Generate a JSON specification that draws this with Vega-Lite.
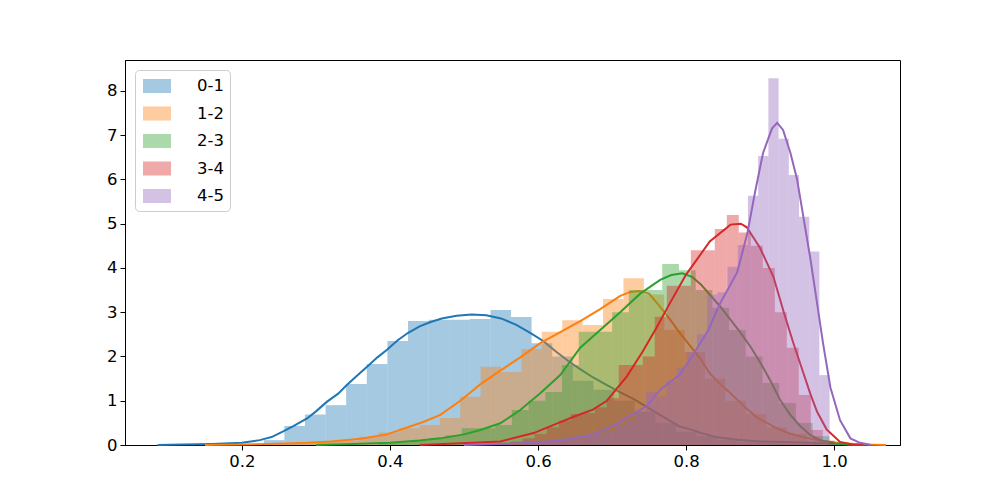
{
"$schema": "https://vega.github.io/schema/vega-lite/v6.json",
"width": 775, "height": 385,
"autosize": {"type": "none"},
"padding": {"left": 125, "top": 60, "right": 100, "bottom": 55},
"background": "white",
"datasets": {
"hist": [
{"s":"0-1","x0":0.2295,"x1":0.2573,"y":0.11},{"s":"0-1","x0":0.2573,"x1":0.2851,"y":0.43},{"s":"0-1","x0":0.2851,"x1":0.3130,"y":0.69},{"s":"0-1","x0":0.3130,"x1":0.3408,"y":0.9},{"s":"0-1","x0":0.3408,"x1":0.3686,"y":1.38},{"s":"0-1","x0":0.3686,"x1":0.3965,"y":1.83},{"s":"0-1","x0":0.3965,"x1":0.4243,"y":2.35},{"s":"0-1","x0":0.4243,"x1":0.4522,"y":2.80},{"s":"0-1","x0":0.4522,"x1":0.4800,"y":2.83},{"s":"0-1","x0":0.4800,"x1":0.5078,"y":2.83},{"s":"0-1","x0":0.5078,"x1":0.5357,"y":2.85},{"s":"0-1","x0":0.5357,"x1":0.5635,"y":3.05},{"s":"0-1","x0":0.5635,"x1":0.5913,"y":2.89},{"s":"0-1","x0":0.5913,"x1":0.6192,"y":2.3},{"s":"0-1","x0":0.6192,"x1":0.6470,"y":2.0},{"s":"0-1","x0":0.6470,"x1":0.6749,"y":1.45},{"s":"0-1","x0":0.6749,"x1":0.7027,"y":1.25},{"s":"0-1","x0":0.7027,"x1":0.7305,"y":1.0},{"s":"0-1","x0":0.7305,"x1":0.7584,"y":0.75},{"s":"0-1","x0":0.7584,"x1":0.7862,"y":0.5},{"s":"0-1","x0":0.7862,"x1":0.8140,"y":0.3},{"s":"0-1","x0":0.8140,"x1":0.8419,"y":0.2},{"s":"0-1","x0":0.8419,"x1":0.8697,"y":0.12},{"s":"0-1","x0":0.8697,"x1":0.8976,"y":0.08},{"s":"0-1","x0":0.8976,"x1":0.9254,"y":0.06},{"s":"0-1","x0":0.9254,"x1":0.9532,"y":0.04},{"s":"0-1","x0":0.9532,"x1":0.9811,"y":0.03},
{"s":"1-2","x0":0.2192,"x1":0.2468,"y":0.03},{"s":"1-2","x0":0.2468,"x1":0.2743,"y":0.05},{"s":"1-2","x0":0.2743,"x1":0.3019,"y":0.07},{"s":"1-2","x0":0.3019,"x1":0.3295,"y":0.08},{"s":"1-2","x0":0.3295,"x1":0.3570,"y":0.1},{"s":"1-2","x0":0.3570,"x1":0.3846,"y":0.18},{"s":"1-2","x0":0.3846,"x1":0.4122,"y":0.28},{"s":"1-2","x0":0.4122,"x1":0.4397,"y":0.38},{"s":"1-2","x0":0.4397,"x1":0.4673,"y":0.45},{"s":"1-2","x0":0.4673,"x1":0.4949,"y":0.61},{"s":"1-2","x0":0.4949,"x1":0.5224,"y":1.09},{"s":"1-2","x0":0.5224,"x1":0.5500,"y":1.77},{"s":"1-2","x0":0.5500,"x1":0.5776,"y":1.65},{"s":"1-2","x0":0.5776,"x1":0.6051,"y":2.17},{"s":"1-2","x0":0.6051,"x1":0.6327,"y":2.56},{"s":"1-2","x0":0.6327,"x1":0.6603,"y":2.82},{"s":"1-2","x0":0.6603,"x1":0.6878,"y":2.71},{"s":"1-2","x0":0.6878,"x1":0.7154,"y":3.30},{"s":"1-2","x0":0.7154,"x1":0.7430,"y":3.77},{"s":"1-2","x0":0.7430,"x1":0.7705,"y":3.4},{"s":"1-2","x0":0.7705,"x1":0.7981,"y":2.6},{"s":"1-2","x0":0.7981,"x1":0.8257,"y":2.1},{"s":"1-2","x0":0.8257,"x1":0.8532,"y":1.5},{"s":"1-2","x0":0.8532,"x1":0.8808,"y":1.0},{"s":"1-2","x0":0.8808,"x1":0.9084,"y":0.7},{"s":"1-2","x0":0.9084,"x1":0.9360,"y":0.4},{"s":"1-2","x0":0.9360,"x1":0.9635,"y":0.25},{"s":"1-2","x0":0.9635,"x1":0.9911,"y":0.1},
{"s":"2-3","x0":0.3842,"x1":0.4068,"y":0.04},{"s":"2-3","x0":0.4068,"x1":0.4293,"y":0.06},{"s":"2-3","x0":0.4293,"x1":0.4519,"y":0.1},{"s":"2-3","x0":0.4519,"x1":0.4745,"y":0.15},{"s":"2-3","x0":0.4745,"x1":0.4970,"y":0.22},{"s":"2-3","x0":0.4970,"x1":0.5196,"y":0.38},{"s":"2-3","x0":0.5196,"x1":0.5422,"y":0.38},{"s":"2-3","x0":0.5422,"x1":0.5647,"y":0.45},{"s":"2-3","x0":0.5647,"x1":0.5873,"y":0.79},{"s":"2-3","x0":0.5873,"x1":0.6099,"y":1.0},{"s":"2-3","x0":0.6099,"x1":0.6324,"y":1.2},{"s":"2-3","x0":0.6324,"x1":0.6550,"y":1.81},{"s":"2-3","x0":0.6550,"x1":0.6776,"y":2.56},{"s":"2-3","x0":0.6776,"x1":0.7001,"y":2.56},{"s":"2-3","x0":0.7001,"x1":0.7227,"y":3.0},{"s":"2-3","x0":0.7227,"x1":0.7453,"y":3.5},{"s":"2-3","x0":0.7453,"x1":0.7678,"y":3.5},{"s":"2-3","x0":0.7678,"x1":0.7904,"y":4.09},{"s":"2-3","x0":0.7904,"x1":0.8130,"y":3.95},{"s":"2-3","x0":0.8130,"x1":0.8355,"y":3.5},{"s":"2-3","x0":0.8355,"x1":0.8581,"y":3.1},{"s":"2-3","x0":0.8581,"x1":0.8807,"y":2.6},{"s":"2-3","x0":0.8807,"x1":0.9032,"y":2.0},{"s":"2-3","x0":0.9032,"x1":0.9258,"y":1.4},{"s":"2-3","x0":0.9258,"x1":0.9484,"y":0.95},{"s":"2-3","x0":0.9484,"x1":0.9710,"y":0.5},{"s":"2-3","x0":0.9710,"x1":0.9935,"y":0.2},{"s":"2-3","x0":0.9935,"x1":1.0161,"y":0.05},
{"s":"3-4","x0":0.5469,"x1":0.5631,"y":0.05},{"s":"3-4","x0":0.5631,"x1":0.5793,"y":0.08},{"s":"3-4","x0":0.5793,"x1":0.5955,"y":0.15},{"s":"3-4","x0":0.5955,"x1":0.6118,"y":0.25},{"s":"3-4","x0":0.6118,"x1":0.6280,"y":0.4},{"s":"3-4","x0":0.6280,"x1":0.6442,"y":0.55},{"s":"3-4","x0":0.6442,"x1":0.6604,"y":0.7},{"s":"3-4","x0":0.6604,"x1":0.6766,"y":0.72},{"s":"3-4","x0":0.6766,"x1":0.6928,"y":0.85},{"s":"3-4","x0":0.6928,"x1":0.7091,"y":1.06},{"s":"3-4","x0":0.7091,"x1":0.7253,"y":1.81},{"s":"3-4","x0":0.7253,"x1":0.7415,"y":1.81},{"s":"3-4","x0":0.7415,"x1":0.7577,"y":2.0},{"s":"3-4","x0":0.7577,"x1":0.7739,"y":2.9},{"s":"3-4","x0":0.7739,"x1":0.7901,"y":3.6},{"s":"3-4","x0":0.7901,"x1":0.8064,"y":3.6},{"s":"3-4","x0":0.8064,"x1":0.8226,"y":4.4},{"s":"3-4","x0":0.8226,"x1":0.8388,"y":4.4},{"s":"3-4","x0":0.8388,"x1":0.8550,"y":4.88},{"s":"3-4","x0":0.8550,"x1":0.8712,"y":5.2},{"s":"3-4","x0":0.8712,"x1":0.8874,"y":4.8},{"s":"3-4","x0":0.8874,"x1":0.9036,"y":4.5},{"s":"3-4","x0":0.9036,"x1":0.9199,"y":4.0},{"s":"3-4","x0":0.9199,"x1":0.9361,"y":3.0},{"s":"3-4","x0":0.9361,"x1":0.9523,"y":2.2},{"s":"3-4","x0":0.9523,"x1":0.9685,"y":1.13},{"s":"3-4","x0":0.9685,"x1":0.9847,"y":0.34},{"s":"3-4","x0":0.9847,"x1":1.0009,"y":0.1},
{"s":"4-5","x0":0.5804,"x1":0.5942,"y":0.04},{"s":"4-5","x0":0.5942,"x1":0.6080,"y":0.05},{"s":"4-5","x0":0.6080,"x1":0.6218,"y":0.07},{"s":"4-5","x0":0.6218,"x1":0.6355,"y":0.1},{"s":"4-5","x0":0.6355,"x1":0.6493,"y":0.12},{"s":"4-5","x0":0.6493,"x1":0.6631,"y":0.15},{"s":"4-5","x0":0.6631,"x1":0.6769,"y":0.2},{"s":"4-5","x0":0.6769,"x1":0.6907,"y":0.25},{"s":"4-5","x0":0.6907,"x1":0.7045,"y":0.3},{"s":"4-5","x0":0.7045,"x1":0.7182,"y":0.45},{"s":"4-5","x0":0.7182,"x1":0.7320,"y":0.55},{"s":"4-5","x0":0.7320,"x1":0.7458,"y":0.75},{"s":"4-5","x0":0.7458,"x1":0.7596,"y":1.2},{"s":"4-5","x0":0.7596,"x1":0.7734,"y":1.1},{"s":"4-5","x0":0.7734,"x1":0.7872,"y":1.45},{"s":"4-5","x0":0.7872,"x1":0.8009,"y":1.75},{"s":"4-5","x0":0.8009,"x1":0.8147,"y":2.1},{"s":"4-5","x0":0.8147,"x1":0.8285,"y":2.5},{"s":"4-5","x0":0.8285,"x1":0.8423,"y":3.4},{"s":"4-5","x0":0.8423,"x1":0.8561,"y":3.45},{"s":"4-5","x0":0.8561,"x1":0.8699,"y":4.03},{"s":"4-5","x0":0.8699,"x1":0.8836,"y":4.52},{"s":"4-5","x0":0.8836,"x1":0.8974,"y":5.63},{"s":"4-5","x0":0.8974,"x1":0.9112,"y":6.53},{"s":"4-5","x0":0.9112,"x1":0.9250,"y":8.29},{"s":"4-5","x0":0.9250,"x1":0.9388,"y":6.92},{"s":"4-5","x0":0.9388,"x1":0.9526,"y":6.1},{"s":"4-5","x0":0.9526,"x1":0.9664,"y":5.16},{"s":"4-5","x0":0.9664,"x1":0.9801,"y":4.37},{"s":"4-5","x0":0.9801,"x1":0.9939,"y":1.58}
],
"kde": [
{"s":"0-1","x":0.086,"y":0},{"s":"0-1","x":0.12,"y":0.01},{"s":"0-1","x":0.16,"y":0.025},{"s":"0-1","x":0.2,"y":0.05},{"s":"0-1","x":0.224,"y":0.11},{"s":"0-1","x":0.24,"y":0.18},{"s":"0-1","x":0.255,"y":0.3},{"s":"0-1","x":0.27,"y":0.43},{"s":"0-1","x":0.288,"y":0.6},{"s":"0-1","x":0.3,"y":0.76},{"s":"0-1","x":0.315,"y":0.98},{"s":"0-1","x":0.33,"y":1.16},{"s":"0-1","x":0.342,"y":1.36},{"s":"0-1","x":0.355,"y":1.56},{"s":"0-1","x":0.369,"y":1.77},{"s":"0-1","x":0.383,"y":1.98},{"s":"0-1","x":0.396,"y":2.15},{"s":"0-1","x":0.41,"y":2.36},{"s":"0-1","x":0.424,"y":2.53},{"s":"0-1","x":0.44,"y":2.68},{"s":"0-1","x":0.455,"y":2.78},{"s":"0-1","x":0.47,"y":2.86},{"s":"0-1","x":0.49,"y":2.92},{"s":"0-1","x":0.51,"y":2.95},{"s":"0-1","x":0.53,"y":2.93},{"s":"0-1","x":0.55,"y":2.86},{"s":"0-1","x":0.57,"y":2.72},{"s":"0-1","x":0.59,"y":2.53},{"s":"0-1","x":0.607,"y":2.35},{"s":"0-1","x":0.625,"y":2.1},{"s":"0-1","x":0.643,"y":1.87},{"s":"0-1","x":0.66,"y":1.68},{"s":"0-1","x":0.675,"y":1.52},{"s":"0-1","x":0.69,"y":1.38},{"s":"0-1","x":0.71,"y":1.2},{"s":"0-1","x":0.73,"y":1.03},{"s":"0-1","x":0.75,"y":0.83},{"s":"0-1","x":0.77,"y":0.63},{"s":"0-1","x":0.79,"y":0.43},{"s":"0-1","x":0.81,"y":0.33},{"s":"0-1","x":0.82,"y":0.27},{"s":"0-1","x":0.84,"y":0.18},{"s":"0-1","x":0.87,"y":0.12},{"s":"0-1","x":0.9,"y":0.08},{"s":"0-1","x":0.95,"y":0.06},{"s":"0-1","x":1.0,"y":0.03},{"s":"0-1","x":1.04,"y":0},
{"s":"1-2","x":0.15,"y":0},{"s":"1-2","x":0.2,"y":0.01},{"s":"1-2","x":0.25,"y":0.03},{"s":"1-2","x":0.288,"y":0.05},{"s":"1-2","x":0.32,"y":0.08},{"s":"1-2","x":0.36,"y":0.14},{"s":"1-2","x":0.396,"y":0.24},{"s":"1-2","x":0.424,"y":0.4},{"s":"1-2","x":0.445,"y":0.52},{"s":"1-2","x":0.468,"y":0.68},{"s":"1-2","x":0.495,"y":1.0},{"s":"1-2","x":0.522,"y":1.37},{"s":"1-2","x":0.549,"y":1.68},{"s":"1-2","x":0.576,"y":1.98},{"s":"1-2","x":0.603,"y":2.3},{"s":"1-2","x":0.63,"y":2.55},{"s":"1-2","x":0.657,"y":2.8},{"s":"1-2","x":0.684,"y":3.07},{"s":"1-2","x":0.711,"y":3.37},{"s":"1-2","x":0.725,"y":3.46},{"s":"1-2","x":0.737,"y":3.48},{"s":"1-2","x":0.75,"y":3.42},{"s":"1-2","x":0.765,"y":3.12},{"s":"1-2","x":0.78,"y":2.8},{"s":"1-2","x":0.792,"y":2.52},{"s":"1-2","x":0.805,"y":2.25},{"s":"1-2","x":0.818,"y":1.98},{"s":"1-2","x":0.832,"y":1.62},{"s":"1-2","x":0.846,"y":1.38},{"s":"1-2","x":0.86,"y":1.17},{"s":"1-2","x":0.88,"y":0.85},{"s":"1-2","x":0.896,"y":0.62},{"s":"1-2","x":0.92,"y":0.4},{"s":"1-2","x":0.94,"y":0.26},{"s":"1-2","x":0.96,"y":0.17},{"s":"1-2","x":0.985,"y":0.09},{"s":"1-2","x":1.01,"y":0.04},{"s":"1-2","x":1.04,"y":0.01},{"s":"1-2","x":1.07,"y":0},
{"s":"2-3","x":0.3,"y":0},{"s":"2-3","x":0.35,"y":0.02},{"s":"2-3","x":0.4,"y":0.05},{"s":"2-3","x":0.44,"y":0.1},{"s":"2-3","x":0.468,"y":0.15},{"s":"2-3","x":0.5,"y":0.24},{"s":"2-3","x":0.522,"y":0.34},{"s":"2-3","x":0.549,"y":0.49},{"s":"2-3","x":0.576,"y":0.79},{"s":"2-3","x":0.603,"y":1.17},{"s":"2-3","x":0.63,"y":1.58},{"s":"2-3","x":0.657,"y":2.2},{"s":"2-3","x":0.684,"y":2.6},{"s":"2-3","x":0.711,"y":3.0},{"s":"2-3","x":0.738,"y":3.42},{"s":"2-3","x":0.765,"y":3.73},{"s":"2-3","x":0.78,"y":3.84},{"s":"2-3","x":0.795,"y":3.88},{"s":"2-3","x":0.808,"y":3.8},{"s":"2-3","x":0.82,"y":3.63},{"s":"2-3","x":0.846,"y":3.13},{"s":"2-3","x":0.873,"y":2.55},{"s":"2-3","x":0.887,"y":2.22},{"s":"2-3","x":0.9,"y":1.87},{"s":"2-3","x":0.914,"y":1.45},{"s":"2-3","x":0.927,"y":1.02},{"s":"2-3","x":0.94,"y":0.7},{"s":"2-3","x":0.954,"y":0.43},{"s":"2-3","x":0.968,"y":0.22},{"s":"2-3","x":0.981,"y":0.11},{"s":"2-3","x":1.0,"y":0.04},{"s":"2-3","x":1.02,"y":0.01},{"s":"2-3","x":1.04,"y":0},
{"s":"3-4","x":0.44,"y":0},{"s":"3-4","x":0.48,"y":0.03},{"s":"3-4","x":0.549,"y":0.08},{"s":"3-4","x":0.594,"y":0.27},{"s":"3-4","x":0.626,"y":0.49},{"s":"3-4","x":0.65,"y":0.65},{"s":"3-4","x":0.674,"y":0.8},{"s":"3-4","x":0.693,"y":1.0},{"s":"3-4","x":0.72,"y":1.55},{"s":"3-4","x":0.741,"y":2.1},{"s":"3-4","x":0.76,"y":2.65},{"s":"3-4","x":0.778,"y":3.2},{"s":"3-4","x":0.8,"y":3.85},{"s":"3-4","x":0.815,"y":4.2},{"s":"3-4","x":0.832,"y":4.6},{"s":"3-4","x":0.86,"y":4.98},{"s":"3-4","x":0.874,"y":5.0},{"s":"3-4","x":0.882,"y":4.92},{"s":"3-4","x":0.9,"y":4.45},{"s":"3-4","x":0.918,"y":3.8},{"s":"3-4","x":0.932,"y":3.0},{"s":"3-4","x":0.945,"y":2.3},{"s":"3-4","x":0.958,"y":1.65},{"s":"3-4","x":0.968,"y":1.15},{"s":"3-4","x":0.977,"y":0.75},{"s":"3-4","x":0.99,"y":0.35},{"s":"3-4","x":1.008,"y":0.07},{"s":"3-4","x":1.025,"y":0.01},{"s":"3-4","x":1.04,"y":0},
{"s":"4-5","x":0.5,"y":0},{"s":"4-5","x":0.56,"y":0.03},{"s":"4-5","x":0.6,"y":0.06},{"s":"4-5","x":0.63,"y":0.1},{"s":"4-5","x":0.674,"y":0.23},{"s":"4-5","x":0.7,"y":0.42},{"s":"4-5","x":0.72,"y":0.62},{"s":"4-5","x":0.747,"y":0.88},{"s":"4-5","x":0.765,"y":1.25},{"s":"4-5","x":0.792,"y":1.6},{"s":"4-5","x":0.81,"y":2.05},{"s":"4-5","x":0.83,"y":2.6},{"s":"4-5","x":0.846,"y":3.2},{"s":"4-5","x":0.869,"y":3.9},{"s":"4-5","x":0.883,"y":4.8},{"s":"4-5","x":0.893,"y":5.7},{"s":"4-5","x":0.904,"y":6.6},{"s":"4-5","x":0.916,"y":7.15},{"s":"4-5","x":0.923,"y":7.28},{"s":"4-5","x":0.931,"y":7.12},{"s":"4-5","x":0.941,"y":6.6},{"s":"4-5","x":0.95,"y":6.0},{"s":"4-5","x":0.958,"y":5.2},{"s":"4-5","x":0.968,"y":4.2},{"s":"4-5","x":0.977,"y":3.2},{"s":"4-5","x":0.985,"y":2.3},{"s":"4-5","x":0.995,"y":1.3},{"s":"4-5","x":1.008,"y":0.56},{"s":"4-5","x":1.022,"y":0.15},{"s":"4-5","x":1.035,"y":0.05},{"s":"4-5","x":1.05,"y":0}
]
},
"layer": [
{"data": {"name": "hist"}, "transform": [{"filter": "datum.s === '0-1'"}],
 "mark": {"type": "rect", "opacity": 0.4},
 "encoding": {
  "x": {"field": "x0", "type": "quantitative", "title": null, "scale": {"domain": [0.042, 1.089], "nice": false, "zero": false}, "axis": {"values": [0.2, 0.4, 0.6, 0.8, 1.0], "format": ".1f"}},
  "x2": {"field": "x1"},
  "y": {"field": "y", "type": "quantitative", "title": null, "scale": {"domain": [0, 8.7], "nice": false}, "axis": {"values": [0, 1, 2, 3, 4, 5, 6, 7, 8], "format": "d"}},
  "y2": {"datum": 0},
  "fill": {"field": "s", "type": "nominal", "scale": {"domain": ["0-1", "1-2", "2-3", "3-4", "4-5"], "range": ["#1f77b4", "#ff7f0e", "#2ca02c", "#d62728", "#9467bd"]},
   "legend": {"orient": "none", "legendX": 10, "legendY": 10, "title": null, "symbolType": "M-1.4,-0.7L1.4,-0.7L1.4,0.7L-1.4,0.7Z", "symbolSize": 400, "symbolOpacity": 0.4, "symbolStrokeWidth": 0, "symbolOffset": 6, "labelFontSize": 16.5, "labelFont": "DejaVu Sans", "labelColor": "black", "labelOffset": 30, "padding": 6, "rowPadding": 8.5, "strokeColor": "#cccccc", "fillColor": "rgba(255,255,255,0.8)", "cornerRadius": 4}}
 }},
{"data": {"name": "kde"}, "transform": [{"filter": "datum.s === '0-1'"}],
 "mark": {"type": "line", "strokeWidth": 2},
 "encoding": {"x": {"field": "x", "type": "quantitative", "title": null}, "y": {"field": "y", "type": "quantitative", "title": null},
  "stroke": {"field": "s", "type": "nominal", "scale": {"domain": ["0-1", "1-2", "2-3", "3-4", "4-5"], "range": ["#1f77b4", "#ff7f0e", "#2ca02c", "#d62728", "#9467bd"]}, "legend": null}}},
{"data": {"name": "hist"}, "transform": [{"filter": "datum.s === '1-2'"}],
 "mark": {"type": "rect", "opacity": 0.4},
 "encoding": {"x": {"field": "x0", "type": "quantitative", "title": null}, "x2": {"field": "x1"}, "y": {"field": "y", "type": "quantitative", "title": null}, "y2": {"datum": 0}, "fill": {"field": "s", "type": "nominal"}}},
{"data": {"name": "kde"}, "transform": [{"filter": "datum.s === '1-2'"}],
 "mark": {"type": "line", "strokeWidth": 2},
 "encoding": {"x": {"field": "x", "type": "quantitative", "title": null}, "y": {"field": "y", "type": "quantitative", "title": null}, "stroke": {"field": "s", "type": "nominal", "legend": null}}},
{"data": {"name": "hist"}, "transform": [{"filter": "datum.s === '2-3'"}],
 "mark": {"type": "rect", "opacity": 0.4},
 "encoding": {"x": {"field": "x0", "type": "quantitative", "title": null}, "x2": {"field": "x1"}, "y": {"field": "y", "type": "quantitative", "title": null}, "y2": {"datum": 0}, "fill": {"field": "s", "type": "nominal"}}},
{"data": {"name": "kde"}, "transform": [{"filter": "datum.s === '2-3'"}],
 "mark": {"type": "line", "strokeWidth": 2},
 "encoding": {"x": {"field": "x", "type": "quantitative", "title": null}, "y": {"field": "y", "type": "quantitative", "title": null}, "stroke": {"field": "s", "type": "nominal", "legend": null}}},
{"data": {"name": "hist"}, "transform": [{"filter": "datum.s === '3-4'"}],
 "mark": {"type": "rect", "opacity": 0.4},
 "encoding": {"x": {"field": "x0", "type": "quantitative", "title": null}, "x2": {"field": "x1"}, "y": {"field": "y", "type": "quantitative", "title": null}, "y2": {"datum": 0}, "fill": {"field": "s", "type": "nominal"}}},
{"data": {"name": "kde"}, "transform": [{"filter": "datum.s === '3-4'"}],
 "mark": {"type": "line", "strokeWidth": 2},
 "encoding": {"x": {"field": "x", "type": "quantitative", "title": null}, "y": {"field": "y", "type": "quantitative", "title": null}, "stroke": {"field": "s", "type": "nominal", "legend": null}}},
{"data": {"name": "hist"}, "transform": [{"filter": "datum.s === '4-5'"}],
 "mark": {"type": "rect", "opacity": 0.4},
 "encoding": {"x": {"field": "x0", "type": "quantitative", "title": null}, "x2": {"field": "x1"}, "y": {"field": "y", "type": "quantitative", "title": null}, "y2": {"datum": 0}, "fill": {"field": "s", "type": "nominal"}}},
{"data": {"name": "kde"}, "transform": [{"filter": "datum.s === '4-5'"}],
 "mark": {"type": "line", "strokeWidth": 2},
 "encoding": {"x": {"field": "x", "type": "quantitative", "title": null}, "y": {"field": "y", "type": "quantitative", "title": null}, "stroke": {"field": "s", "type": "nominal", "legend": null}}}
],
"config": {
 "view": {"stroke": "black", "strokeWidth": 1},
 "axis": {"grid": false, "domainColor": "black", "domainWidth": 1, "tickColor": "black", "tickWidth": 1, "tickSize": 5, "labelColor": "black", "labelFont": "DejaVu Sans", "labelFontSize": 16.5, "labelPadding": 3},
 "font": "DejaVu Sans"
}
}
